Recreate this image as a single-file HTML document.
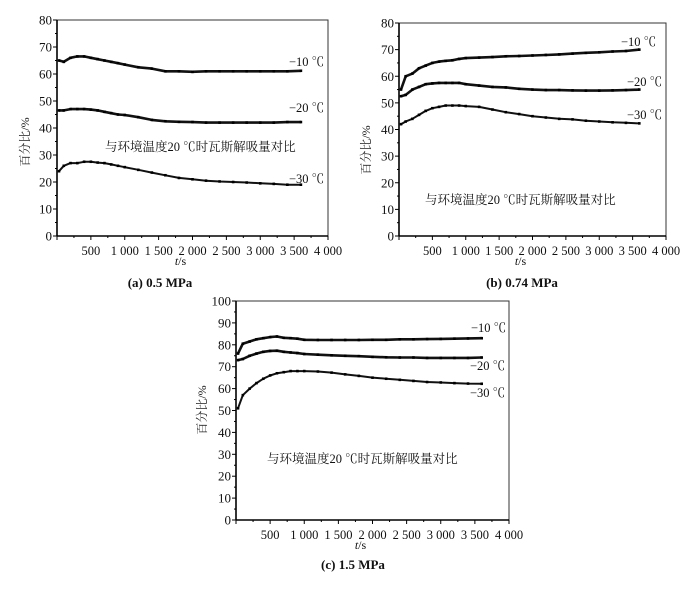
<!DOCTYPE html>
<html><head><meta charset="utf-8">
<style>
html,body{margin:0;padding:0;background:#fff;}
svg{display:block;font-family:"Liberation Serif","Noto Serif CJK SC",serif;}
</style></head>
<body>
<svg id="fig" width="700" height="594" viewBox="0 0 700 594" xmlns="http://www.w3.org/2000/svg"></svg>
<script>
const times = [30,100,200,300,400,500,600,700,800,900,1000,1200,1400,1600,1800,2000,2200,2400,2600,2800,3000,3200,3400,3600];
const xTicks = [500,1000,1500,2000,2500,3000,3500,4000];
const xTickLabels = ["500","1 000","1 500","2 000","2 500","3 000","3 500","4 000"];
const seriesNames = ["−10 ℃","−20 ℃","−30 ℃"];
const aM10 = [65,64.5,66,66.5,66.5,66,65.5,65,64.5,64,63.5,62.5,62,61,61,60.8,61,61,61,61,61,61,61,61.2];
const aM20 = [46.5,46.5,47,47,47,46.8,46.5,46,45.5,45,44.8,44,43,42.5,42.3,42.2,42,42,42,42,42,42,42.2,42.2];
const aM30 = [24,26,27,27,27.5,27.5,27.2,27,26.5,26,25.5,24.5,23.5,22.5,21.5,21,20.5,20.2,20,19.8,19.5,19.3,19,19];
const bM10 = [55,60,61,63,64,65,65.5,65.8,66,66.5,66.8,67,67.2,67.5,67.6,67.8,68,68.2,68.5,68.8,69,69.3,69.5,70];
const bM20 = [52.5,53,55,56,57,57.3,57.5,57.5,57.5,57.5,57,56.5,56,55.8,55.3,55,54.8,54.8,54.7,54.6,54.6,54.7,54.8,55];
const bM30 = [42,43,44,45.5,47,48,48.5,49,49,49,48.8,48.5,47.5,46.5,45.8,45,44.5,44,43.8,43.3,43,42.7,42.5,42.3];
const cM10 = [76,80.5,81.5,82.5,83,83.5,83.8,83.2,83,82.8,82.3,82.2,82.2,82.2,82.2,82.3,82.3,82.5,82.5,82.6,82.7,82.8,82.9,83];
const cM20 = [73,73.5,75,76,76.8,77.2,77.3,76.8,76.5,76.2,75.8,75.5,75.2,75,74.8,74.5,74.3,74.2,74.2,74,74,74,74,74.2];
const cM30 = [51,57,60,62.5,64.5,66,67,67.5,68,68,68,67.8,67.3,66.5,65.8,65,64.5,64,63.5,63,62.8,62.5,62.3,62.2];
const yTicksA = [0,10,20,30,40,50,60,70,80];
const yTicksC = [0,10,20,30,40,50,60,70,80,90,100];

const NS="http://www.w3.org/2000/svg";
const svg=document.getElementById('fig');
function el(tag,attrs,parent,text){const e=document.createElementNS(NS,tag);for(const k in attrs)e.setAttribute(k,attrs[k]);if(text!==undefined)e.textContent=text;(parent||svg).appendChild(e);return e;}

function chart(id,cfg){
  const g=el('g',{});
  
  
  const {L,R,T,B,ymax,yTicks,series,labels,note,caption,yTitle}=cfg;
  const xs=v=>L+(v/4000)*(R-L);
  const ys=v=>B-(v/ymax)*(B-T);
  const box=el('rect',{x:L,y:T,width:R-L,height:B-T,fill:'none',stroke:'#333','stroke-width':1},g);
  
  
  el('line',{x1:L,y1:T,x2:L,y2:B,stroke:'#000','stroke-width':1.6},g);
  el('line',{x1:L,y1:B,x2:R,y2:B,stroke:'#000','stroke-width':1.6},g);
  yTicks.forEach((v,i)=>{
    const y=ys(v);
    el('line',{x1:L-4,y1:y,x2:L,y2:y,stroke:'#000','stroke-width':1},g);
    if(i<yTicks.length-1){const ym=ys(v+(yTicks[1]-yTicks[0])/2);el('line',{x1:L-2,y1:ym,x2:L,y2:ym,stroke:'#000','stroke-width':1},g);}
    const t=el('text',{x:L-5,y:y+4.5,'text-anchor':'end','font-size':13,fill:'#111'},g,String(v));
    
    
  });
  for(let v=0;v<=4000;v+=250){const x=xs(v);el('line',{x1:x,y1:B,x2:x,y2:B+(v%500===0?4:2),stroke:'#000','stroke-width':1},g);}
  xTicks.forEach((v,i)=>{
    const t=el('text',{x:xs(v),y:B+19,'text-anchor':'middle','font-size':12.5,fill:'#111'},g,xTickLabels[i]);
    
    
  });
  const xt=el('text',{x:(L+R)/2-12,y:B+29,'text-anchor':'middle','font-size':12,fill:'#111'},g);
  
  
  el('tspan',{'font-style':'italic'},xt,'t');el('tspan',{},xt,'/s');
  const yt=el('text',{x:0,y:0,transform:`translate(${yTitle[0]},${yTitle[1]}) rotate(-90)`,'text-anchor':'middle','font-size':12,fill:'#222'},g,'百分比/%');
  
  
  series.forEach((arr,si)=>{
    const pts=arr.map((v,i)=>xs(times[i]).toFixed(1)+','+ys(v).toFixed(1)).join(' ');
    const p=el('polyline',{points:pts,fill:'none',stroke:'#111','stroke-width':si===2?2:2.6,'stroke-linejoin':'round'},g);
    
    
    arr.forEach((v,i)=>{
      const r=el('rect',{x:xs(times[i])-1.3,y:ys(v)-1.3,width:2.6,height:2.6,fill:'#000'},g);
      
      
    });
    const lb=el('text',{x:labels[si][0],y:labels[si][1],'font-size':12.5,fill:'#111'},g,seriesNames[si]);
    
    
  });
  const nt=el('text',{x:note[0],y:note[1],'font-size':12.5,fill:'#111'},g,'与环境温度20 ℃时瓦斯解吸量对比');
  
  
  const cp=el('text',{x:caption[0],y:caption[1],'text-anchor':'middle','font-size':13,'font-weight':'bold',fill:'#111'},g,caption[2]);
  
  
}

chart('a',{L:57,R:328,T:20,B:236,ymax:80,yTicks:yTicksA,series:[aM10,aM20,aM30],
  labels:[[289,66],[289,112],[289,183]],note:[105,151],caption:[160,287,'(a) 0.5 MPa'],yTitle:[29,142]});
chart('b',{L:399,R:666,T:23,B:236,ymax:80,yTicks:yTicksA,series:[bM10,bM20,bM30],
  labels:[[621,46],[627,86],[627,119]],note:[425,204],caption:[522,287,'(b) 0.74 MPa'],yTitle:[370,150]});
chart('c',{L:236,R:509,T:301,B:520,ymax:100,yTicks:yTicksC,series:[cM10,cM20,cM30],
  labels:[[471,332],[470,370],[470,397]],note:[267,463],caption:[353,569,'(c) 1.5 MPa'],yTitle:[206,410]});
</script>
</body></html>
